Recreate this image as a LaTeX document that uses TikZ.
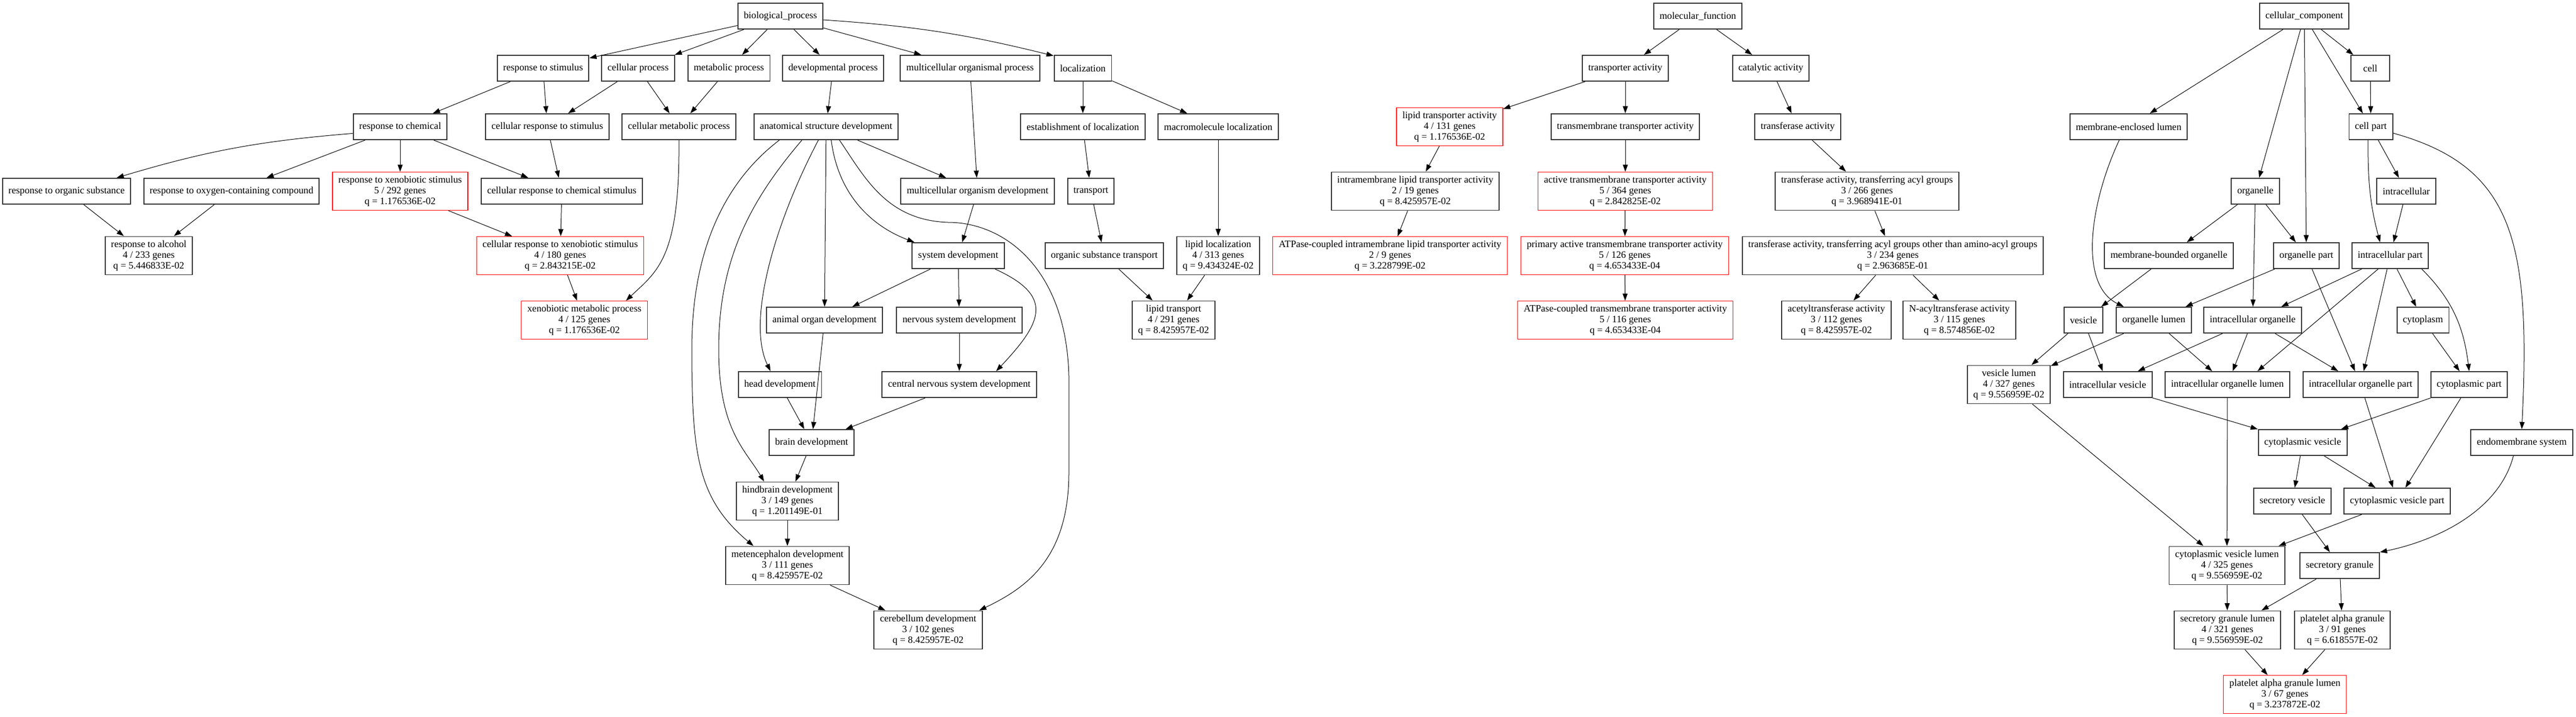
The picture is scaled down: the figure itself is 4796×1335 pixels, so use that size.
\documentclass[tikz,border=0pt]{standalone}
\usepackage{fontspec}
\setmainfont{Liberation Serif}
\usepackage{tikz}
\usetikzlibrary{arrows.meta}
\usetikzlibrary{shapes}
\tikzset{
    term/.style={draw=black!80, line width=1.1pt, rectangle, align=center,
        inner xsep=0.22cm, inner ysep=0.1cm, minimum width=1.44cm, minimum height=0.96cm,
        font=\fontsize{10.36}{11.38}\selectfont},
    sig/.style={term, draw=red, line width=0.7pt},
    stat/.style={minimum height=1.42cm},
}
\tikzstyle{line} = [draw, line width=0.57pt, -{Triangle[length=7.6pt,width=5.3pt]}]

\begin{document}
\begin{tikzpicture}[x=0.02cm, y=0.02cm]
	\useasboundingbox (0,0) rectangle (4796,-1335);
	% biological_process
	\node[term] (bp) at (1453,-30) {biological\_process};
	\node[term] (rs) at (1011,-127) {response to stimulus};
	\node[term] (cpr) at (1188,-127) {cellular process};
	\node[term] (mp) at (1357,-127) {metabolic process};
	\node[term] (dp) at (1551,-127) {developmental process};
	\node[term] (mop) at (1806,-127) {multicellular organismal process};
	\node[term] (loc) at (2016,-127) {localization};
	\node[term] (rc) at (745,-236) {response to chemical};
	\node[term] (crs) at (1019,-236) {cellular response to stimulus};
	\node[term] (cmp) at (1264,-236) {cellular metabolic process};
	\node[term] (asd) at (1538,-236) {anatomical structure development};
	\node[term] (eol) at (2016,-236) {establishment of localization};
	\node[term] (mml) at (2268,-236) {macromolecule localization};
	\node[term] (ros) at (124,-356) {response to organic substance};
	\node[term] (rox) at (431,-356) {response to oxygen-containing compound};
	\node[sig,stat] (rxs) at (745,-356) {response to xenobiotic stimulus\\5 / 292 genes\\q = 1.176536E-02};
	\node[term] (crcs) at (1046,-356) {cellular response to chemical stimulus};
	\node[term] (mod) at (1820,-356) {multicellular organism development};
	\node[term] (tr) at (2031,-356) {transport};
	\node[term,stat] (ra) at (277,-476) {response to alcohol\\4 / 233 genes\\q = 5.446833E-02};
	\node[sig,stat] (crxs) at (1043,-476) {cellular response to xenobiotic stimulus\\4 / 180 genes\\q = 2.843215E-02};
	\node[term] (sd) at (1784,-476) {system development};
	\node[term] (ost) at (2056,-476) {organic substance transport};
	\node[term,stat] (ll) at (2268,-476) {lipid localization\\4 / 313 genes\\q = 9.434324E-02};
	\node[sig,stat] (xmp) at (1088,-596) {xenobiotic metabolic process\\4 / 125 genes\\q = 1.176536E-02};
	\node[term] (aod) at (1535,-596) {animal organ development};
	\node[term] (nsd) at (1786,-596) {nervous system development};
	\node[term,stat] (lt) at (2185,-596) {lipid transport\\4 / 291 genes\\q = 8.425957E-02};
	\node[term] (hd) at (1452,-716) {head development};
	\node[term] (cnsd) at (1786,-716) {central nervous system development};
	\node[term] (bd) at (1511,-824) {brain development};
	\node[term,stat] (hbd) at (1466,-933) {hindbrain development\\3 / 149 genes\\q = 1.201149E-01};
	\node[term,stat] (med) at (1466,-1053) {metencephalon development\\3 / 111 genes\\q = 8.425957E-02};
	\node[term,stat] (cbd) at (1728,-1173) {cerebellum development\\3 / 102 genes\\q = 8.425957E-02};
	% molecular_function
	\node[term] (mf) at (3161,-30) {molecular\_function};
	\node[term] (ta) at (3026,-127) {transporter activity};
	\node[term] (ca) at (3297,-127) {catalytic activity};
	\node[sig,stat] (lta) at (2699,-236) {lipid transporter activity\\4 / 131 genes\\q = 1.176536E-02};
	\node[term] (tmta) at (3026,-236) {transmembrane transporter activity};
	\node[term] (tfa) at (3347,-236) {transferase activity};
	\node[term,stat] (ilta) at (2635,-356) {intramembrane lipid transporter activity\\2 / 19 genes\\q = 8.425957E-02};
	\node[sig,stat] (atta) at (3026,-356) {active transmembrane transporter activity\\5 / 364 genes\\q = 2.842825E-02};
	\node[term,stat] (taa) at (3476,-356) {transferase activity, transferring acyl groups\\3 / 266 genes\\q = 3.968941E-01};
	\node[sig,stat] (ailta) at (2588,-476) {ATPase-coupled intramembrane lipid transporter activity\\2 / 9 genes\\q = 3.228799E-02};
	\node[sig,stat] (patta) at (3025,-476) {primary active transmembrane transporter activity\\5 / 126 genes\\q = 4.653433E-04};
	\node[term,stat] (taao) at (3524,-476) {transferase activity, transferring acyl groups other than amino-acyl groups\\3 / 234 genes\\q = 2.963685E-01};
	\node[sig,stat] (atmta) at (3026,-596) {ATPase-coupled transmembrane transporter activity\\5 / 116 genes\\q = 4.653433E-04};
	\node[term,stat] (acta) at (3419,-596) {acetyltransferase activity\\3 / 112 genes\\q = 8.425957E-02};
	\node[term,stat] (nata) at (3648,-596) {N-acyltransferase activity\\3 / 115 genes\\q = 8.574856E-02};
	% cellular_component
	\node[term] (cc) at (4290,-30) {cellular\_component};
	\node[term] (cell) at (4413,-127) {cell};
	\node[term] (mel) at (3963,-236) {membrane-enclosed lumen};
	\node[term] (cp) at (4414,-236) {cell part};
	\node[term] (org) at (4199,-356) {organelle};
	\node[term] (icl) at (4480,-356) {intracellular};
	\node[term] (mbo) at (4038,-476) {membrane-bounded organelle};
	\node[term] (op) at (4294,-476) {organelle part};
	\node[term] (ip) at (4450,-476) {intracellular part};
	\node[term] (ves) at (3879,-596) {vesicle};
	\node[term] (ol) at (4010,-596) {organelle lumen};
	\node[term] (io) at (4194,-596) {intracellular organelle};
	\node[term] (cyt) at (4511,-596) {cytoplasm};
	\node[term,stat] (vl) at (3740,-716) {vesicle lumen\\4 / 327 genes\\q = 9.556959E-02};
	\node[term] (iv) at (3924,-716) {intracellular vesicle};
	\node[term] (iol) at (4147,-716) {intracellular organelle lumen};
	\node[term] (iop) at (4395,-716) {intracellular organelle part};
	\node[term] (cpt) at (4597,-716) {cytoplasmic part};
	\node[term] (cv) at (4287,-824) {cytoplasmic vesicle};
	\node[term] (ems) at (4695,-824) {endomembrane system};
	\node[term] (sv) at (4268,-933) {secretory vesicle};
	\node[term] (cvp) at (4463,-933) {cytoplasmic vesicle part};
	\node[term,stat] (cvl) at (4146,-1053) {cytoplasmic vesicle lumen\\4 / 325 genes\\q = 9.556959E-02};
	\node[term] (sg) at (4356,-1053) {secretory granule};
	\node[term,stat] (sgl) at (4147,-1173) {secretory granule lumen\\4 / 321 genes\\q = 9.556959E-02};
	\node[term,stat] (pag) at (4361,-1173) {platelet alpha granule\\3 / 91 genes\\q = 6.618557E-02};
	\node[sig,stat] (pagl) at (4254,-1293) {platelet alpha granule lumen\\3 / 67 genes\\q = 3.237872E-02};

	\draw[line] (bp) -- (rs);
	\draw[line] (bp) -- (cpr);
	\draw[line] (bp) -- (mp);
	\draw[line] (bp) -- (dp);
	\draw[line] (bp) -- (mop);
	\draw[line] (bp.-5) to[bend left=5] (loc.157);
	\draw[line] (rs) -- (rc);
	\draw[line] (rs) -- (crs);
	\draw[line] (cpr) -- (crs);
	\draw[line] (cpr) -- (cmp);
	\draw[line] (mp) -- (cmp);
	\draw[line] (dp) -- (asd);
	\draw[line] (mop) -- (mod);
	\draw[line] (loc) -- (eol);
	\draw[line] (loc) -- (mml);
	\draw[line] (rc.-172) to[bend right=6] (ros.15);
	\draw[line] (rc) -- (rox);
	\draw[line] (rc) -- (rxs);
	\draw[line] (rc) -- (crcs);
	\draw[line] (crs) -- (crcs);
	\draw[line] (cmp.south) .. controls +(2,-220) and +(58,55) .. (xmp.25);
	\draw[line] (ros) -- (ra);
	\draw[line] (rox) -- (ra);
	\draw[line] (rxs) -- (crxs);
	\draw[line] (crcs) -- (crxs);
	\draw[line] (crxs) -- (xmp);
	\draw[line] (asd) -- (mod);
	\draw[line] (asd.-69) .. controls (1560,-360) and (1620,-420) .. (sd.163);
	\draw[line] (asd) -- (aod);
	\draw[line] (asd.-120) .. controls (1440,-420) and (1390,-600) .. (hd.125);
	\draw[line] (asd.-151) .. controls (1400,-370) and (1338,-480) .. (1338,-650)
		.. controls (1338,-800) and (1388,-838) .. (hbd.140);
	\draw[line] (asd.-164) .. controls (1360,-330) and (1288,-450) .. (1288,-650)
		.. controls (1288,-850) and (1300,-930) .. (med.150);
	\draw[line] (asd.-45) .. controls (1610,-330) and (1650,-410) .. (1765,-414)
		.. controls (1870,-414) and (1985,-500) .. (1990,-700) -- (1990,-880)
		.. controls (1990,-1040) and (1910,-1095) .. (cbd.21);
	\draw[line] (mod) -- (sd);
	\draw[line] (sd) -- (aod);
	\draw[line] (sd) -- (nsd);
	\draw[line] (sd.-20) .. controls +(110,-50) and +(87,92) .. (cnsd.20);
	\draw[line] (nsd) -- (cnsd);
	\draw[line] (aod) -- (bd);
	\draw[line] (hd) -- (bd);
	\draw[line] (cnsd) -- (bd);
	\draw[line] (bd) -- (hbd);
	\draw[line] (hbd) -- (med);
	\draw[line] (med) -- (cbd);
	\draw[line] (eol) -- (tr);
	\draw[line] (tr) -- (ost);
	\draw[line] (mml) -- (ll);
	\draw[line] (ost) -- (lt);
	\draw[line] (ll) -- (lt);

	\draw[line] (mf) -- (ta);
	\draw[line] (mf) -- (ca);
	\draw[line] (ta) -- (lta);
	\draw[line] (ta) -- (tmta);
	\draw[line] (ca) -- (tfa);
	\draw[line] (lta) -- (ilta);
	\draw[line] (tmta) -- (atta);
	\draw[line] (tfa) -- (taa);
	\draw[line] (ilta) -- (ailta);
	\draw[line] (atta) -- (patta);
	\draw[line] (taa) -- (taao);
	\draw[line] (patta) -- (atmta);
	\draw[line] (taao) -- (acta);
	\draw[line] (taao) -- (nata);

	\draw[line] (cc) -- (mel);
	\draw[line] (cc) -- (org);
	\draw[line] (cc) -- (op);
	\draw[line] (cc) -- (cp);
	\draw[line] (cc) -- (cell);
	\draw[line] (cell) -- (cp);
	\draw[line] (mel.-125) .. controls (3890,-380) and (3870,-530) .. (ol.156);
	\draw[line] (cp.-102) to[out=-90,in=105] (ip.127);
	\draw[line] (cp) -- (icl);
	\draw[line] (cp.-16) .. controls (4680,-310) and (4712,-450) .. (ems.north);
	\draw[line] (org) -- (mbo);
	\draw[line] (org) -- (op);
	\draw[line] (org) -- (io);
	\draw[line] (icl) -- (ip);
	\draw[line] (mbo) -- (ves);
	\draw[line] (op) -- (ol);
	\draw[line] (op) -- (iop);
	\draw[line] (ip) -- (io);
	\draw[line] (ip.-132) -- (iol.24);
	\draw[line] (ip) -- (iop);
	\draw[line] (ip) -- (cyt);
	\draw[line] (ip.-23) to[out=-45,in=97] (cpt.north);
	\draw[line] (ves) -- (vl);
	\draw[line] (ves) -- (iv);
	\draw[line] (ol) -- (vl);
	\draw[line] (ol) -- (iol);
	\draw[line] (io) -- (iv);
	\draw[line] (io) -- (iol);
	\draw[line] (io) -- (iop);
	\draw[line] (cyt) -- (cpt);
	\draw[line] (vl) -- (cvl);
	\draw[line] (iv) -- (cv);
	\draw[line] (iol) -- (cvl);
	\draw[line] (iop) -- (cvp);
	\draw[line] (cpt) -- (cv);
	\draw[line] (cpt) -- (cvp);
	\draw[line] (cv) -- (sv);
	\draw[line] (cv) -- (cvp);
	\draw[line] (ems.-122) .. controls (4650,-960) and (4520,-1010) .. (sg.north east);
	\draw[line] (sv) -- (sg);
	\draw[line] (cvp) -- (cvl);
	\draw[line] (cvl) -- (sgl);
	\draw[line] (sg) -- (sgl);
	\draw[line] (sg) -- (pag);
	\draw[line] (sgl) -- (pagl);
	\draw[line] (pag) -- (pagl);
\end{tikzpicture}
\end{document}
